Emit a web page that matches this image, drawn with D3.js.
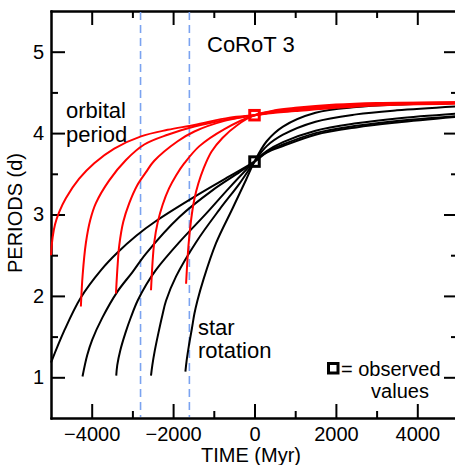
<!DOCTYPE html>
<html>
<head>
<meta charset="utf-8">
<script src="https://cdn.jsdelivr.net/npm/d3@7"></script>
<style>
  body { margin: 0; background: #fff; }
  svg { display: block; font-family: "Liberation Sans", Arial, sans-serif; }
  .axis path, .axis line { stroke: #000; stroke-width: 2; }
  .axis text { font-size: 20px; fill: #000; }
</style>
</head>
<body>
<svg id="chart" width="455" height="465"></svg>
<script>
// time in Myr, period in days

// orbital period tracks (red)
const orbitA = [[-5000, 2.50], [-4960, 2.72], [-4900, 2.88], [-4800, 3.03], [-4635, 3.20], [-4308, 3.44],
  [-3938, 3.63], [-3446, 3.81], [-2789, 3.96], [-2134, 4.04], [-1477, 4.10], [-615, 4.19], [0, 4.22],
  [500, 4.25], [1000, 4.27], [2000, 4.31], [3000, 4.34], [5000, 4.36]];
const orbitB = [[-4266, 1.87], [-4222, 2.26], [-4143, 2.65], [-4037, 2.93], [-3897, 3.14], [-3569, 3.42],
  [-3158, 3.67], [-2708, 3.86], [-2134, 3.98], [-1477, 4.08], [-738, 4.16], [0, 4.22],
  [500, 4.26], [1000, 4.28], [2000, 4.32], [3000, 4.35], [5000, 4.37]];
const orbitC = [[-3404, 2.03], [-3360, 2.40], [-3323, 2.62], [-3224, 2.91], [-3077, 3.14], [-2880, 3.36],
  [-2666, 3.52], [-2462, 3.66], [-1888, 3.90], [-1477, 4.02], [-738, 4.15], [0, 4.22],
  [500, 4.26], [1000, 4.29], [2000, 4.33], [3000, 4.35], [5000, 4.37]];
const orbitD = [[-2543, 2.07], [-2500, 2.45], [-2462, 2.66], [-2380, 2.90], [-2257, 3.12], [-2100, 3.32],
  [-1927, 3.48], [-1723, 3.63], [-1354, 3.84], [-738, 4.05], [0, 4.22],
  [500, 4.27], [1000, 4.30], [2000, 4.34], [3000, 4.36], [5000, 4.38]];
const orbitE = [[-1681, 2.15], [-1640, 2.50], [-1600, 2.74], [-1540, 3.00], [-1477, 3.19], [-1380, 3.38],
  [-1255, 3.56], [-1058, 3.77], [-788, 3.94], [-418, 4.10], [0, 4.22],
  [500, 4.28], [1000, 4.31], [2000, 4.35], [3000, 4.37], [5000, 4.38]];

// star rotation tracks (black)
const spinA = [[-5000, 1.18], [-4677, 1.57], [-4266, 1.98], [-3766, 2.32], [-3372, 2.53], [-2905, 2.74],
  [-2420, 2.92], [-1600, 3.18], [-788, 3.42], [0, 3.65],
  [300, 3.76], [700, 3.84], [1500, 3.98], [2500, 4.07], [3500, 4.13], [5000, 4.20]];
const spinB = [[-4226, 1.01], [-4111, 1.27], [-3988, 1.46], [-3741, 1.73], [-3372, 2.05], [-3003, 2.29],
  [-2666, 2.52], [-1846, 2.97], [-1026, 3.30], [-369, 3.52], [0, 3.65],
  [300, 3.77], [700, 3.86], [1500, 4.00], [2500, 4.09], [3500, 4.15], [5000, 4.21]];
const spinC = [[-3397, 1.02], [-3372, 1.15], [-3298, 1.33], [-3175, 1.54], [-3028, 1.75], [-2873, 1.94],
  [-2658, 2.14], [-2420, 2.32], [-1846, 2.66], [-1189, 3.01], [-615, 3.33], [0, 3.65],
  [300, 3.78], [700, 3.89], [1500, 4.03], [2500, 4.12], [3500, 4.18], [5000, 4.24]];
const spinD = [[-2543, 1.02], [-2510, 1.15], [-2449, 1.33], [-2363, 1.54], [-2265, 1.76], [-2174, 1.94],
  [-1927, 2.24], [-1435, 2.66], [-862, 3.06], [-369, 3.38], [0, 3.65],
  [300, 3.84], [700, 3.98], [1500, 4.14], [2500, 4.23], [3500, 4.28], [5000, 4.33]];
const spinE = [[-1698, 1.07], [-1666, 1.21], [-1612, 1.39], [-1538, 1.60], [-1477, 1.78], [-1403, 1.94],
  [-1255, 2.20], [-943, 2.65], [-534, 3.08], [-204, 3.43], [0, 3.65],
  [300, 3.90], [700, 4.08], [1500, 4.25], [2500, 4.32], [3500, 4.35], [5000, 4.37]];

const observed = [{t: 0, p: 4.22, color: 'red'}, {t: 0, p: 3.65, color: 'black'}];
const markerTimes = [-2800, -1600];
const xMajor = [-4000, -2000, 0, 2000, 4000];
const xMinor = [-3000, -1000, 1000, 3000];
const yMajor = [1, 2, 3, 4, 5];
const yMinor = [1.5, 2.5, 3.5, 4.5];

const W = 455, H = 465;
const margin = {left: 51, top: 11, right: -3, bottom: 47};
const svg = d3.select('#chart');

const x = d3.scaleLinear().domain([-5000, 5000]).range([margin.left, W - margin.right]);
const y = d3.scaleLinear().domain([0.5, 5.5]).range([H - margin.bottom, margin.top]);
const fmt = d3.format('d');

// axes, ticks point inward on all four sides
function frame() {
  const bottom = y.range()[0], top = y.range()[1];
  const left = x.range()[0], right = x.range()[1];

  svg.append('g').attr('class', 'axis').attr('transform', `translate(0,${bottom})`)
    .call(d3.axisBottom(x).tickValues(xMajor).tickFormat(fmt).tickSize(-14).tickPadding(9).tickSizeOuter(0));
  svg.append('g').attr('class', 'axis').attr('transform', `translate(0,${bottom})`)
    .call(d3.axisBottom(x).tickValues(xMinor).tickFormat('').tickSize(-7).tickSizeOuter(0));
  svg.append('g').attr('class', 'axis').attr('transform', `translate(0,${top})`)
    .call(d3.axisTop(x).tickValues(xMajor).tickFormat('').tickSize(-14).tickSizeOuter(0));
  svg.append('g').attr('class', 'axis').attr('transform', `translate(0,${top})`)
    .call(d3.axisTop(x).tickValues(xMinor).tickFormat('').tickSize(-7).tickSizeOuter(0));

  svg.append('g').attr('class', 'axis').attr('transform', `translate(${left},0)`)
    .call(d3.axisLeft(y).tickValues(yMajor).tickFormat(fmt).tickSize(-14).tickPadding(7).tickSizeOuter(0));
  svg.append('g').attr('class', 'axis').attr('transform', `translate(${left},0)`)
    .call(d3.axisLeft(y).tickValues(yMinor).tickFormat('').tickSize(-7).tickSizeOuter(0));
  svg.append('g').attr('class', 'axis').attr('transform', `translate(${right},0)`)
    .call(d3.axisRight(y).tickValues(yMajor).tickFormat('').tickSize(-14).tickSizeOuter(0));
  svg.append('g').attr('class', 'axis').attr('transform', `translate(${right},0)`)
    .call(d3.axisRight(y).tickValues(yMinor).tickFormat('').tickSize(-7).tickSizeOuter(0));

  svg.selectAll('.axis .domain').attr('stroke-linecap', 'square');
}

frame();

svg.selectAll('.marker')
  .data(markerTimes)
  .join('line')
  .attr('class', 'marker')
  .attr('x1', (d) => x(d)).attr('x2', (d) => x(d))
  .attr('y1', y(5.5) + 1).attr('y2', y(0.5) - 1)
  .attr('stroke', '#7ba3f0')
  .attr('stroke-width', 1.6)
  .attr('stroke-dasharray', '8,5');

const line = d3.line()
  .x((d) => x(d[0]))
  .y((d) => y(d[1]))
  .curve(d3.curveCatmullRom.alpha(0.5));

svg.selectAll('.spin')
  .data([spinA, spinB, spinC, spinD, spinE])
  .join('path')
  .attr('class', 'spin')
  .attr('d', line)
  .attr('fill', 'none')
  .attr('stroke', '#000')
  .attr('stroke-width', 2);

svg.selectAll('.orbit')
  .data([orbitA, orbitB, orbitC, orbitD, orbitE])
  .join('path')
  .attr('class', 'orbit')
  .attr('d', line)
  .attr('fill', 'none')
  .attr('stroke', '#ff0000')
  .attr('stroke-width', 2);

const sq = 9.5;
svg.selectAll('.obs')
  .data(observed)
  .join('rect')
  .attr('class', 'obs')
  .attr('x', (d) => x(d.t) - sq / 2)
  .attr('y', (d) => y(d.p) - sq / 2)
  .attr('width', sq).attr('height', sq)
  .attr('fill', 'none')
  .attr('stroke', (d) => d.color)
  .attr('stroke-width', 3);

// texts
svg.append('text')
  .attr('transform', 'translate(22,213) rotate(-90)')
  .attr('text-anchor', 'middle')
  .attr('font-size', 20)
  .text('PERIODS (d)');

svg.append('text')
  .attr('x', 251).attr('y', 462)
  .attr('text-anchor', 'middle')
  .attr('font-size', 20)
  .text('TIME (Myr)');

svg.append('text').attr('x', 207).attr('y', 52).attr('font-size', 22).text('CoRoT 3');
svg.append('text').attr('x', 66).attr('y', 118).attr('font-size', 22).text('orbital');
svg.append('text').attr('x', 66).attr('y', 142).attr('font-size', 22).text('period');
svg.append('text').attr('x', 198).attr('y', 335).attr('font-size', 22).text('star');
svg.append('text').attr('x', 198).attr('y', 358).attr('font-size', 22).text('rotation');

// legend
svg.append('rect')
  .attr('x', 328.5).attr('y', 363.5)
  .attr('width', sq).attr('height', sq)
  .attr('fill', 'none').attr('stroke', '#000').attr('stroke-width', 3);
svg.append('text').attr('x', 341).attr('y', 376).attr('font-size', 20).text('= observed');
svg.append('text').attr('x', 400).attr('y', 398).attr('text-anchor', 'middle').attr('font-size', 20).text('values');
</script>
</body>
</html>
